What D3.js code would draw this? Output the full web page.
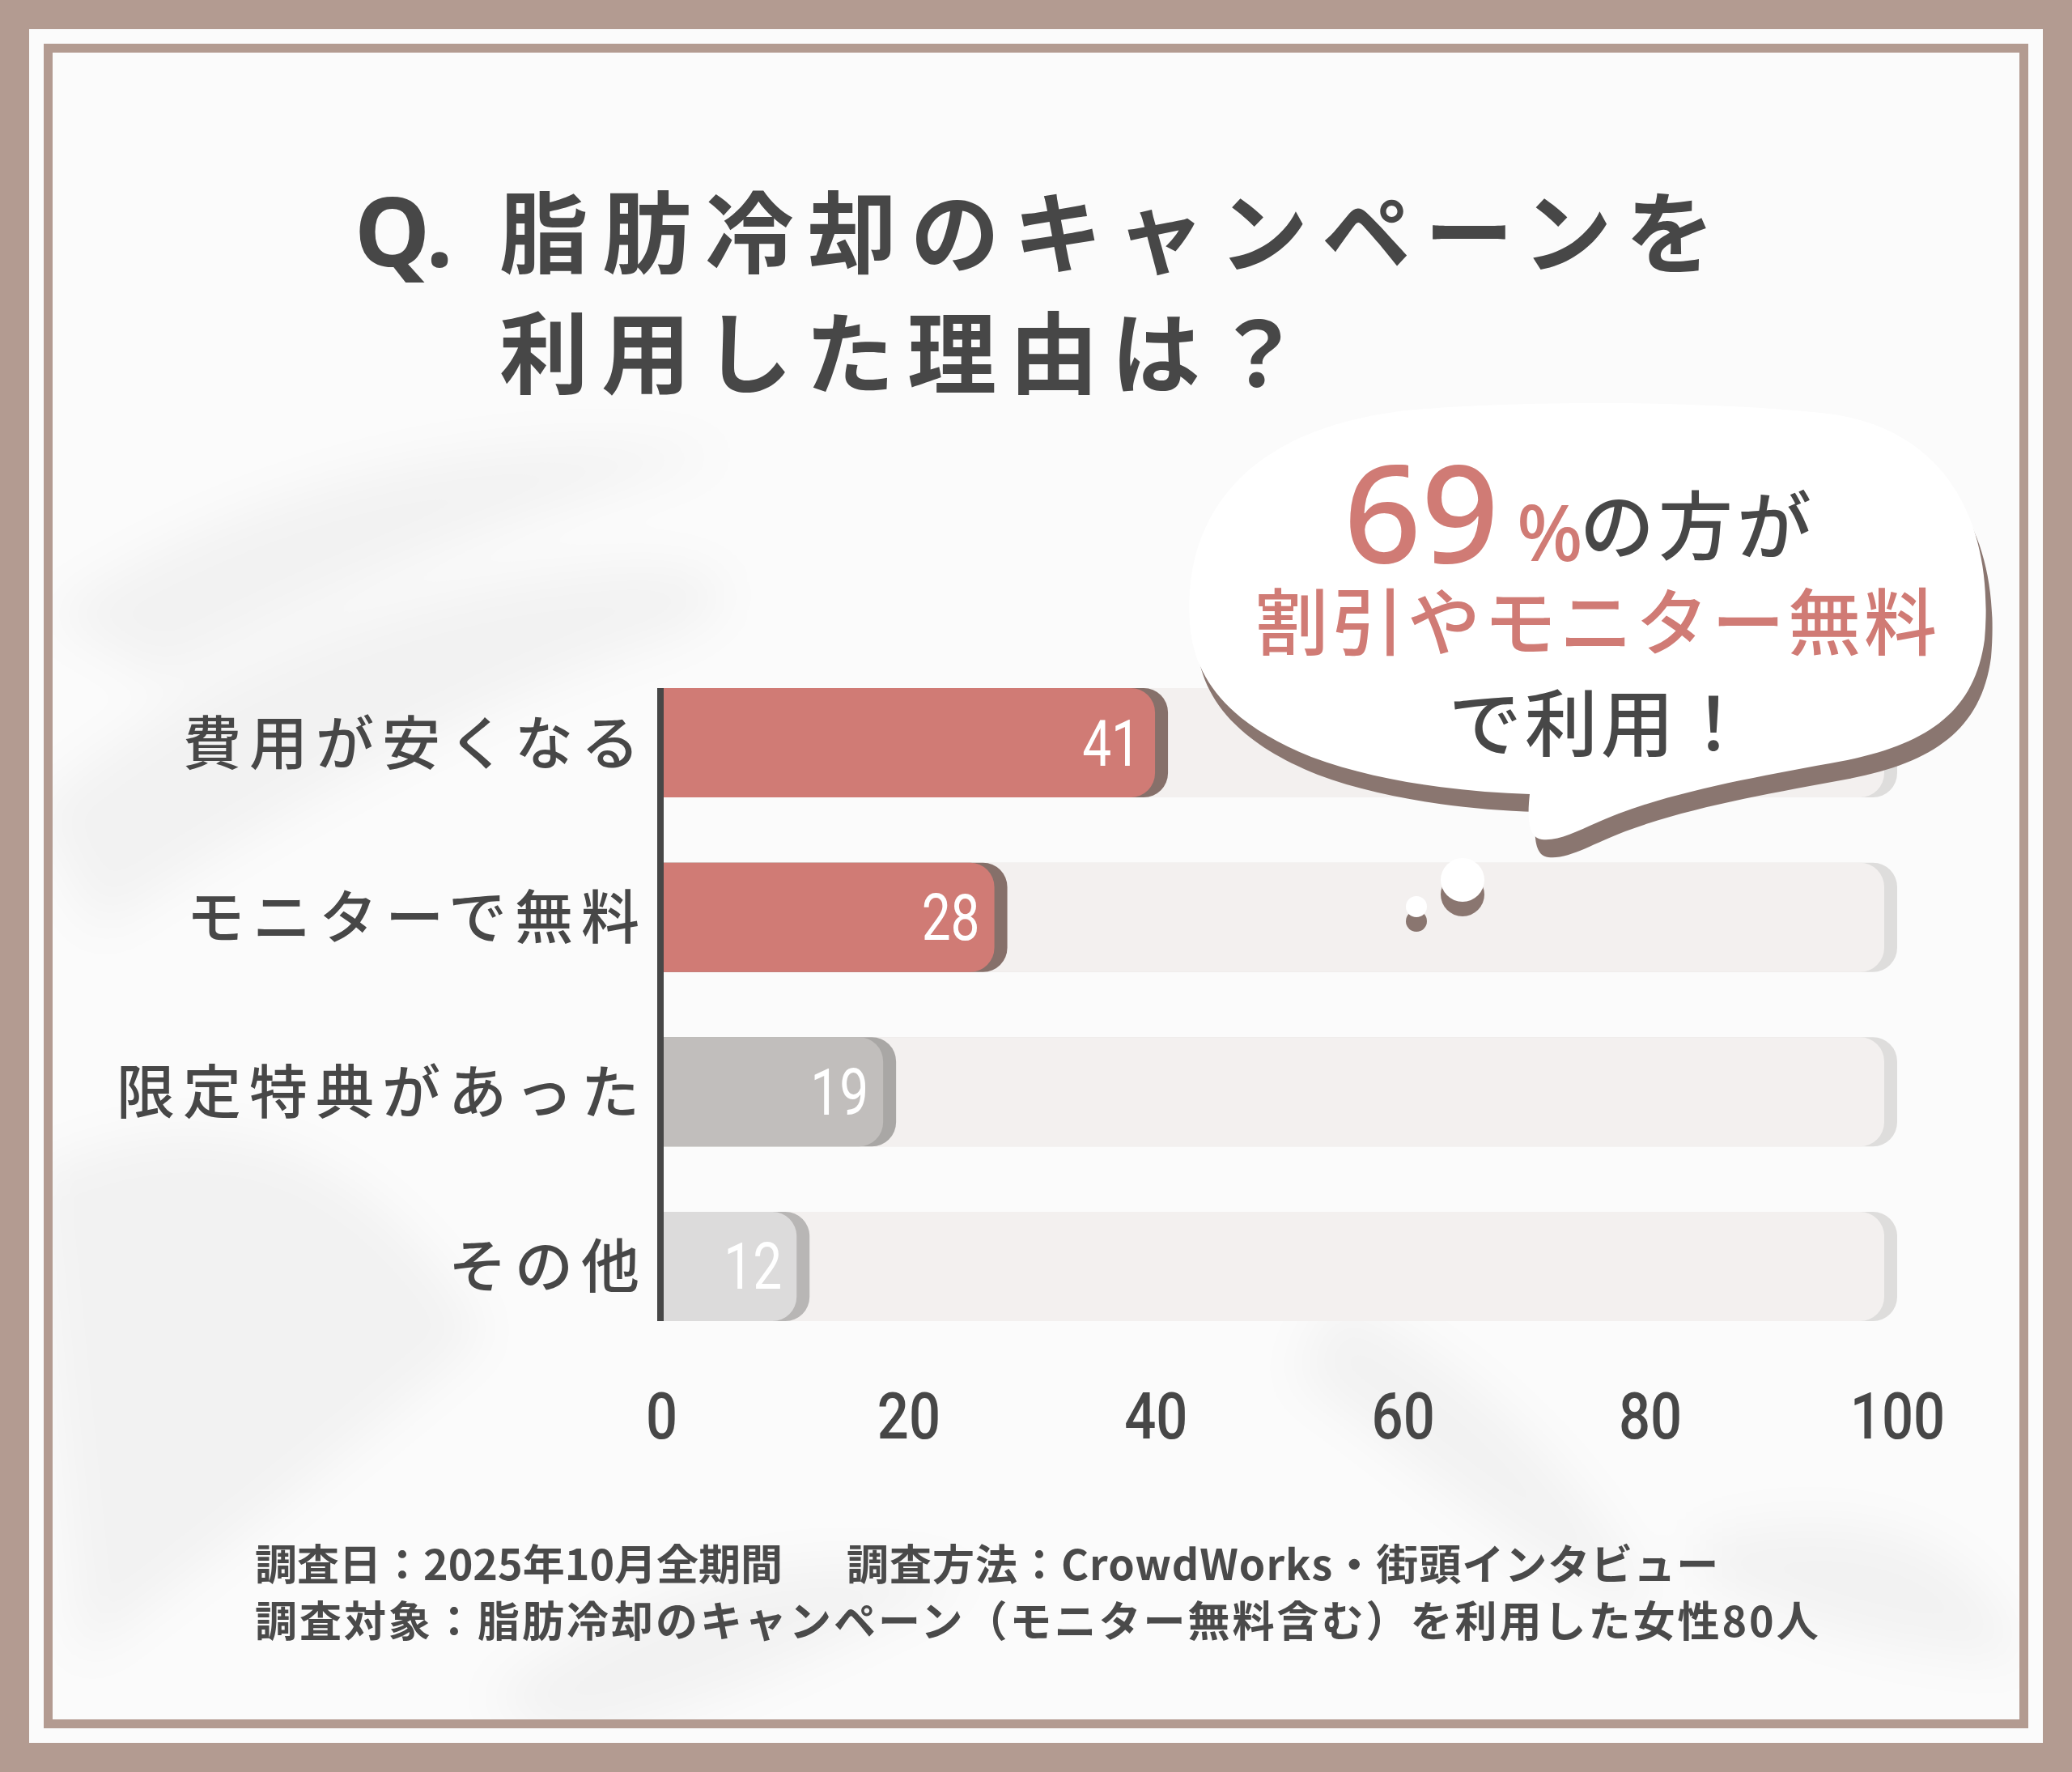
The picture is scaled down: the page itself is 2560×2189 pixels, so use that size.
<!DOCTYPE html>
<html lang="ja">
<head>
<meta charset="UTF-8">
<title>脂肪冷却のキャンペーンを利用した理由は？</title>
<script src="https://d3js.org/d3.v7.min.js"></script>
<style>
  body { margin: 0; padding: 0; background: #b39b91; }
  svg { display: block; }
  .cjk { font-family: "Noto Sans CJK JP", "Noto Sans", sans-serif; }
</style>
</head>
<body>
<svg id="chart" width="2560" height="2189"></svg>
<script>
// data
const categories = ["費用が安くなる", "モニターで無料", "限定特典があった", "その他"];
const values = [41, 28, 19, 12];
const tickValues = [0, 20, 40, 60, 80, 100];
const titleLines = ["脂肪冷却のキャンペーンを", "利用した理由は？"];
const footLine1a = "調査日：2025年10月全期間";
const footLine1b = "調査方法：CrowdWorks・街頭インタビュー";
const footLine2 = "調査対象：脂肪冷却のキャンペーン（モニター無料含む）を利用した女性80人";

const W = 2560, H = 2189;
const svg = d3.select("#chart");

// frame
svg.append("rect").attr("width", W).attr("height", H).attr("fill", "#b39b91");
svg.append("rect").attr("x", 36).attr("y", 36).attr("width", 2488).attr("height", 2117).attr("fill", "#fbfbfb");

// soft leaf shadows in the background
const defs = svg.append("defs");
defs.append("filter").attr("id", "soft").attr("x", "-50%").attr("y", "-50%").attr("width", "200%").attr("height", "200%")
  .append("feGaussianBlur").attr("stdDeviation", 30);
defs.append("clipPath").attr("id", "panel")
  .append("rect").attr("x", 65).attr("y", 65).attr("width", 2430).attr("height", 2059);
const bg = svg.append("g").attr("clip-path", "url(#panel)").append("g").attr("filter", "url(#soft)")
  .attr("fill", "#000").attr("fill-opacity", 0.035);
bg.append("path").attr("d", "M 40 1000 C 250 820, 500 720, 760 700 C 900 690, 950 740, 820 790 C 600 860, 350 1000, 120 1150 Z");
bg.append("path").attr("d", "M 60 760 C 300 600, 600 520, 900 560 C 760 600, 500 680, 200 840 Z");
bg.append("path").attr("d", "M 40 1450 C 250 1350, 450 1400, 600 1650 C 480 1750, 300 1900, 100 2050 Z");
bg.append("path").attr("d", "M 600 2100 C 800 1950, 1000 1900, 1200 1950 C 1000 2050, 850 2120, 700 2150 Z");
bg.append("path").attr("d", "M 1650 1600 C 1800 1680, 1950 1800, 2050 2000 C 1900 1950, 1750 1800, 1600 1700 Z");
bg.append("path").attr("d", "M 2100 1900 C 2300 1850, 2450 1900, 2500 2050 C 2350 2050, 2200 2000, 2100 1950 Z");

svg.append("rect").attr("x", 59.5).attr("y", 59.5).attr("width", 2441).attr("height", 2070)
  .attr("fill", "none").attr("stroke", "#b39b91").attr("stroke-width", 11);

// title
const title = svg.append("g").attr("class", "cjk").attr("fill", "#474747").attr("font-weight", 700);
title.append("text").attr("x", 438).attr("y", 329).attr("font-size", 118).attr("font-family", "Noto Sans, sans-serif")
  .text("Q.");
title.append("text").attr("x", 617).attr("y", 329).attr("font-size", 110).attr("letter-spacing", 17)
  .text(titleLines[0]);
title.append("text").attr("x", 617).attr("y", 478).attr("font-size", 110).attr("letter-spacing", 16)
  .text(titleLines[1]);

// scales
const x = d3.scaleLinear().domain([0, 100]).range([817, 2344]);
const y = d3.scaleBand().domain(categories).range([850, 1632]).paddingInner(0.374);
const fill = d3.scaleOrdinal().domain(categories).range(["#d07b75", "#d07b75", "#c1bebc", "#dcdbdb"]);
const edge = d3.scaleOrdinal().domain(categories).range(["#86706a", "#86706a", "#a9a7a5", "#b8b6b5"]);

const shadowW = 16, radius = 30, x0 = 820;
function roundRight(xa, xb, yt, h, r) {
  r = Math.min(r, (xb - xa), h / 2);
  return `M${xa},${yt}H${xb - r}A${r},${r} 0 0 1 ${xb},${yt + r}V${yt + h - r}A${r},${r} 0 0 1 ${xb - r},${yt + h}H${xa}Z`;
}

const rows = svg.append("g").selectAll("g").data(categories).join("g");
// track
rows.append("path").attr("fill", "#dedddc")
  .attr("d", d => roundRight(x0, x(100), y(d), y.bandwidth(), radius));
rows.append("path").attr("fill", "#f3f0ef")
  .attr("d", d => roundRight(x0, x(100) - shadowW, y(d), y.bandwidth(), radius));
// bar with darker right edge
rows.append("path").attr("fill", d => edge(d))
  .attr("d", (d, i) => roundRight(x0, x(values[i]), y(d), y.bandwidth(), radius));
rows.append("path").attr("fill", d => fill(d))
  .attr("d", (d, i) => roundRight(x0, x(values[i]) - shadowW, y(d), y.bandwidth(), radius));
// value labels
rows.append("text")
  .attr("transform", (d, i) => `translate(${x(values[i]) - shadowW - 18},${y(d) + y.bandwidth() / 2 + 28}) scale(0.8,1)`)
  .attr("text-anchor", "end").attr("fill", "#fff")
  .attr("font-family", "Roboto, 'Noto Sans', sans-serif").attr("font-size", 80)
  .text((d, i) => values[i]);
// category labels
rows.append("text").attr("class", "cjk")
  .attr("x", 800).attr("y", d => y(d) + y.bandwidth() / 2 + 26)
  .attr("text-anchor", "end").attr("fill", "#474747").attr("font-size", 72).attr("font-weight", 500)
  .attr("letter-spacing", 10)
  .text(d => d);

// axis line
svg.append("line").attr("x1", 816).attr("x2", 816).attr("y1", 850).attr("y2", 1632)
  .attr("stroke", "#474747").attr("stroke-width", 8);

// x axis
const axis = svg.append("g").attr("transform", "translate(0,1777)")
  .call(d3.axisBottom(x).tickValues(tickValues).tickSize(0).tickPadding(0));
axis.select(".domain").remove();
axis.selectAll("text")
  .attr("y", 0).attr("dy", 0)
  .attr("transform", "scale(0.86,1)")
  .attr("fill", "#474747").attr("font-size", 80).attr("font-weight", 500)
  .attr("font-family", "Roboto, 'Noto Sans', sans-serif");

// speech bubble
const bubblePath = "M 1470 770 C 1460 620, 1560 520, 1760 505 C 1900 495, 2100 495, 2250 510 " +
  "C 2400 525, 2465 640, 2452 790 C 2440 880, 2380 920, 2277 940 C 2180 958, 2080 975, 2000 1005 " +
  "C 1960 1020, 1930 1040, 1905 1037 C 1885 1035, 1888 1000, 1890 981 C 1800 978, 1700 965, 1620 935 " +
  "C 1520 895, 1475 840, 1470 770 Z";
const bubble = svg.append("g");
bubble.append("path").attr("d", bubblePath).attr("fill", "#8a7670").attr("transform", "translate(8,22)");
bubble.append("path").attr("d", bubblePath).attr("fill", "#ffffff");
[[1807, 1087, 27], [1750, 1120, 13]].forEach(([cx, cy, r]) => {
  bubble.append("circle").attr("cx", cx).attr("cy", cy + 18).attr("r", r).attr("fill", "#8a7670");
  bubble.append("circle").attr("cx", cx).attr("cy", cy).attr("r", r).attr("fill", "#ffffff");
});

const bt = bubble.append("g");
bt.append("text").attr("x", 1660).attr("y", 695).attr("fill", "#d07b75")
  .attr("font-family", "'Noto Sans', sans-serif").attr("font-size", 168).attr("font-weight", 500)
  .text("69");
bt.append("text").attr("x", 1874).attr("y", 693).attr("fill", "#d07b75")
  .attr("font-family", "'Noto Sans', sans-serif").attr("font-size", 96).attr("font-weight", 500)
  .text("%");
bt.append("text").attr("class", "cjk").attr("x", 1952).attr("y", 684).attr("fill", "#474747")
  .attr("font-size", 92).attr("font-weight", 500).attr("letter-spacing", 5)
  .text("の方が");
bt.append("text").attr("class", "cjk").attr("x", 1551).attr("y", 802).attr("fill", "#d07b75")
  .attr("font-size", 90).attr("font-weight", 500).attr("letter-spacing", 4)
  .text("割引やモニター無料");
bt.append("text").attr("class", "cjk").attr("x", 1790).attr("y", 927).attr("fill", "#474747")
  .attr("font-size", 90).attr("font-weight", 500).attr("letter-spacing", 4)
  .text("で利用！");

// footer
const foot = svg.append("g").attr("class", "cjk").attr("fill", "#4a4a4a").attr("font-size", 52).attr("font-weight", 700);
foot.append("text").attr("x", 315).attr("y", 1952).text(footLine1a);
foot.append("text").attr("x", 1046).attr("y", 1952).attr("letter-spacing", 1).text(footLine1b);
foot.append("text").attr("x", 315).attr("y", 2022).attr("letter-spacing", 3).text(footLine2);
</script>
</body>
</html>
